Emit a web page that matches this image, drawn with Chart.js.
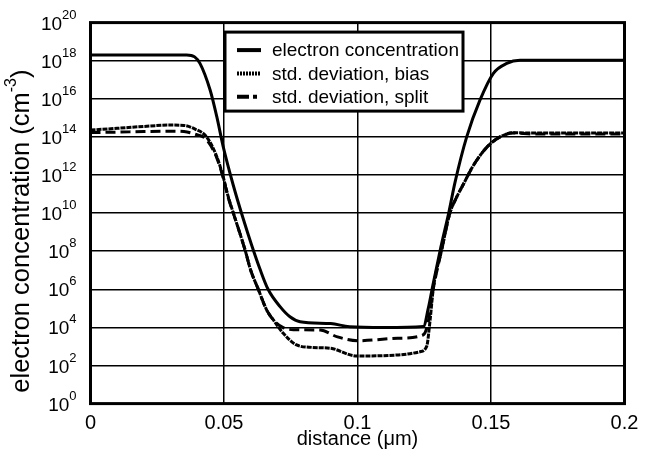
<!DOCTYPE html>
<html>
<head>
<meta charset="utf-8">
<script src="https://cdn.jsdelivr.net/npm/chart.js@4/dist/chart.umd.min.js"></script>
<style>
  html, body { margin: 0; padding: 0; background: #fff; }
  #wrap { width: 647px; height: 455px; }
</style>
</head>
<body>
<div id="wrap"><canvas id="chart"></canvas></div>
<script>
// values: distance in µm, concentration as log10 exponent
const electronX = [0, 0.036, 0.039, 0.041, 0.0448, 0.0473, 0.0497, 0.0535, 0.0572, 0.0604, 0.0635, 0.0665, 0.071, 0.0747, 0.0785, 0.09, 0.097, 0.11, 0.1247, 0.1265, 0.1282, 0.1312, 0.1343, 0.1365, 0.1409, 0.1459, 0.1509, 0.1559, 0.1609, 0.2];
const electronExp = [18.3, 18.3, 18.2, 17.86, 16.46, 15.06, 13.49, 11.45, 9.7, 8.3, 7.05, 6.0, 5.09, 4.56, 4.3, 4.2, 4.04, 4.0, 4.05, 5.0, 6.2, 8.2, 10.1, 11.6, 14.0, 15.94, 17.34, 17.86, 18.02, 18.02];

const biasX = [0, 0.01, 0.02, 0.03, 0.035, 0.039, 0.0435, 0.0473, 0.0497, 0.0516, 0.0535, 0.0579, 0.06, 0.0627, 0.066, 0.0685, 0.0722, 0.0772, 0.083, 0.09, 0.0997, 0.1147, 0.1234, 0.1259, 0.1272, 0.1284, 0.1315, 0.1346, 0.137, 0.1396, 0.1434, 0.1484, 0.1534, 0.1584, 0.166, 0.2];
const biasExp = [14.36, 14.45, 14.55, 14.62, 14.6, 14.42, 14.0, 12.96, 11.9, 10.86, 10.0, 8.06, 7.0, 6.05, 4.91, 4.39, 3.69, 3.08, 2.95, 2.9, 2.5, 2.55, 2.72, 3.0, 4.4, 6.05, 8.06, 10.0, 10.8, 11.5, 12.5, 13.45, 14.0, 14.22, 14.2, 14.2];

const splitX = [0, 0.01, 0.02, 0.03, 0.035, 0.039, 0.0435, 0.0473, 0.0497, 0.0516, 0.0535, 0.0579, 0.06, 0.0627, 0.066, 0.0685, 0.072, 0.076, 0.086, 0.0925, 0.1, 0.115, 0.1245, 0.1262, 0.1284, 0.1315, 0.1346, 0.137, 0.1396, 0.1434, 0.1484, 0.1534, 0.1584, 0.166, 0.2];
const splitExp = [14.23, 14.25, 14.28, 14.3, 14.28, 14.15, 13.85, 12.9, 11.85, 10.8, 10.0, 8.06, 7.0, 6.05, 4.91, 4.39, 4.0, 3.88, 3.86, 3.5, 3.3, 3.43, 3.6, 4.1, 6.05, 8.06, 10.0, 10.8, 11.5, 12.5, 13.45, 14.0, 14.2, 14.15, 14.15];

const seriesNames = ['electron concentration', 'std. deviation, bias', 'std. deviation, split'];
const xTicks = [0, 0.05, 0.1, 0.15, 0.2];
const yTickExps = [0, 2, 4, 6, 8, 10, 12, 14, 16, 18, 20];

const toPoints = (xs, es) => xs.map((x, i) => ({ x, y: Math.pow(10, es[i]) }));
const FONT = '"Liberation Sans", Arial, Helvetica, sans-serif';

// frame, in-plot legend, and y labels with real superscripts
const decorations = {
  id: 'decorations',
  afterDatasetsDraw(chart) {
    const { ctx, chartArea: a } = chart;
    ctx.save();
    ctx.strokeStyle = '#000';
    ctx.lineWidth = 3;
    ctx.strokeRect(a.left, a.top, a.right - a.left, a.bottom - a.top);

    const bx = a.left + 134.5, by = a.top + 9.5, bw = 238, bh = 79;
    ctx.fillStyle = '#fff';
    ctx.fillRect(bx, by, bw, bh);
    ctx.strokeRect(bx, by, bw, bh);
    ctx.font = '19px ' + FONT;
    ctx.textBaseline = 'middle';
    ctx.fillStyle = '#000';
    chart.data.datasets.forEach((ds, i) => {
      const y = by + 18 + i * 23.3;
      ctx.beginPath();
      ctx.lineWidth = 4;
      ctx.setLineDash(ds.legendDash || ds.borderDash || []);
      ctx.moveTo(bx + 12, y);
      ctx.lineTo(bx + 36, y);
      ctx.stroke();
      ctx.setLineDash([]);
      ctx.fillText(ds.label, bx + 47, y + 1);
    });
    ctx.restore();
  },
  afterDraw(chart) {
    const { ctx } = chart;
    const ys = chart.scales.y;
    ctx.save();
    ctx.fillStyle = '#000';
    ctx.textBaseline = 'alphabetic';
    yTickExps.forEach(e => {
      const py = ys.getPixelForValue(Math.pow(10, e));
      const exp = String(e);
      ctx.font = '13px ' + FONT;
      const ew = ctx.measureText(exp).width;
      const right = ys.right - 14;
      ctx.textAlign = 'left';
      ctx.fillText(exp, right - ew, py - 4);
      ctx.font = '19px ' + FONT;
      ctx.textAlign = 'right';
      ctx.fillText('10', right - ew, py + 7);
    });

    // rotated axis title: electron concentration (cm^-3)
    const cx = 22, cy = (chart.chartArea.top + chart.chartArea.bottom) / 2 + 18;
    const main = 'electron concentration (cm', supTxt = '-3', close = ')';
    ctx.font = '25.5px ' + FONT;
    const w1 = ctx.measureText(main).width, w3 = ctx.measureText(close).width;
    ctx.font = '16px ' + FONT;
    const w2 = ctx.measureText(supTxt).width;
    const total = w1 + w2 + w3;
    ctx.translate(cx, cy);
    ctx.rotate(-Math.PI / 2);
    ctx.textAlign = 'left';
    ctx.textBaseline = 'middle';
    let x = -total / 2;
    ctx.font = '25.5px ' + FONT;
    ctx.fillText(main, x, 0);
    x += w1;
    ctx.font = '16px ' + FONT;
    ctx.fillText(supTxt, x, -10);
    x += w2;
    ctx.font = '25.5px ' + FONT;
    ctx.fillText(close, x, 0);
    ctx.restore();
  }
};

new Chart(document.getElementById('chart'), {
  type: 'line',
  data: {
    datasets: [
      { label: seriesNames[0], data: toPoints(electronX, electronExp), borderColor: '#000', borderWidth: 3 },
      { label: seriesNames[1], data: toPoints(biasX, biasExp), borderColor: '#000', borderWidth: 3, borderDash: [5, 1], legendDash: [2, 1] },
      { label: seriesNames[2], data: toPoints(splitX, splitExp), borderColor: '#000', borderWidth: 3, borderDash: [10, 5], legendDash: [12, 4, 4, 4] },
    ],
  },
  options: {
    responsive: true,
    maintainAspectRatio: false,
    animation: false,
    layout: { padding: { top: 22.6, right: 22.5, left: 0, bottom: 0 } },
    elements: { point: { radius: 0 }, line: { cubicInterpolationMode: 'monotone', fill: false } },
    plugins: { legend: { display: false }, tooltip: { enabled: false } },
    scales: {
      x: {
        type: 'linear', min: 0, max: 0.2,
        afterBuildTicks: s => { s.ticks = xTicks.map(v => ({ value: v })); },
        afterFit: s => { s.height = 51.4; },
        grid: { color: '#000', lineWidth: 1.5, drawTicks: false },
        border: { display: false },
        ticks: { color: '#000', font: { family: FONT, size: 20 }, padding: 8, callback: v => String(v) },
        title: { display: true, text: 'distance (μm)', color: '#000', font: { family: FONT, size: 20 }, padding: { top: 3 } },
      },
      y: {
        type: 'logarithmic', min: 1, max: 1e20,
        afterBuildTicks: s => { s.ticks = yTickExps.map(e => ({ value: Math.pow(10, e) })); },
        afterFit: s => { s.width = 90.5; },
        grid: { color: '#000', lineWidth: 1.5, drawTicks: false },
        border: { display: false },
        ticks: { display: false },
        title: { display: false },
      },
    },
  },
  plugins: [decorations],
});
</script>
</body>
</html>
